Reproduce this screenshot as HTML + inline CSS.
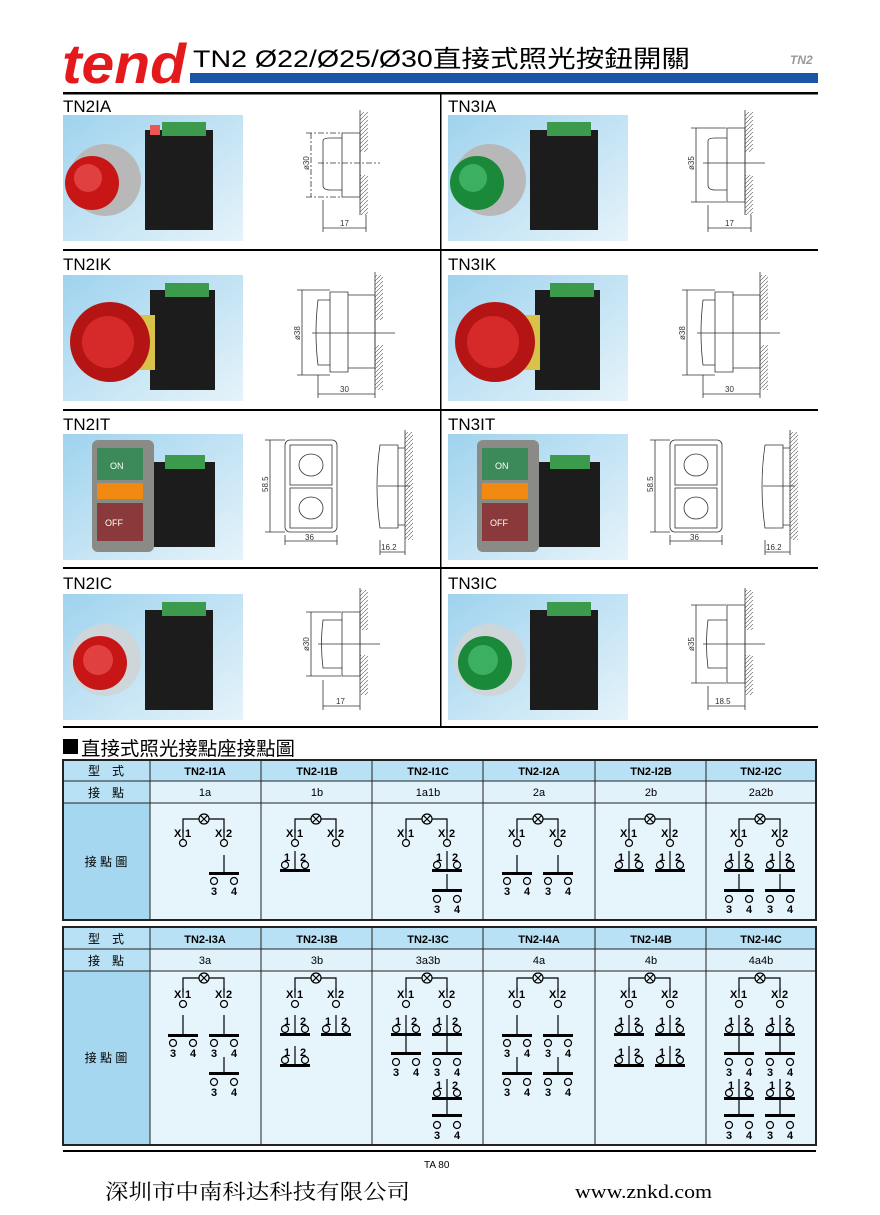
<!DOCTYPE html>
<html><head><meta charset="utf-8"><style>
html,body{margin:0;padding:0;background:#fff}
svg{display:block}
.s{fill:none;stroke:#000;stroke-width:1.2}
.t{font:bold 11px "Liberation Sans",sans-serif;text-anchor:middle}
.lb{font:bold 11px "Liberation Sans",sans-serif}
.h{font:12px "Liberation Sans","Noto Sans CJK TC",sans-serif;text-anchor:middle}
.d{fill:none;stroke:#333;stroke-width:0.8}
.dt{font:8px "Liberation Sans",sans-serif;fill:#333}
.pl{font:17px "Liberation Sans",sans-serif}
</style></head><body>
<svg width="880" height="1215" viewBox="0 0 880 1215" xmlns="http://www.w3.org/2000/svg">
<defs>
<linearGradient id="bg" x1="0" y1="0" x2="1" y2="1"><stop offset="0" stop-color="#9fd3ee"/><stop offset="1" stop-color="#e6f3fa"/></linearGradient>
<pattern id="hat" width="4" height="4" patternUnits="userSpaceOnUse"><path d="M0,4L4,0" stroke="#555" stroke-width="0.6"/></pattern>
</defs>
<!-- header -->
<text x="62" y="83" textLength="124" lengthAdjust="spacingAndGlyphs" style="font:bold italic 56px 'Liberation Sans',sans-serif;fill:#e3191b">tend</text>
<text x="193" y="67" textLength="497" lengthAdjust="spacingAndGlyphs" style="font:24px 'Liberation Sans','Noto Sans CJK TC',sans-serif">TN2  Ø22/Ø25/Ø30直接式照光按鈕開關</text>
<rect x="190" y="73" width="628" height="10" fill="#1a56a8"/>
<text x="790" y="64" style="font:bold italic 12px 'Liberation Sans',sans-serif;fill:#999">TN2</text>
<rect x="63" y="92" width="755" height="2.5" fill="#000"/>
<rect x="440" y="93" width="1.5" height="634" fill="#000"/>
<rect x="63" y="249" width="755" height="2" fill="#000"/>
<rect x="63" y="409" width="755" height="2" fill="#000"/>
<rect x="63" y="567" width="755" height="2" fill="#000"/>
<rect x="63" y="726" width="755" height="2" fill="#000"/>
<text class="pl" x="63" y="112">TN2IA</text><text class="pl" x="448" y="112">TN3IA</text>
<text class="pl" x="63" y="270">TN2IK</text><text class="pl" x="448" y="270">TN3IK</text>
<text class="pl" x="63" y="430">TN2IT</text><text class="pl" x="448" y="430">TN3IT</text>
<text class="pl" x="63" y="589">TN2IC</text><text class="pl" x="448" y="589">TN3IC</text>

<!-- photos -->
<g><rect x="63" y="115" width="180" height="126" fill="url(#bg)"/>
<rect x="145" y="130" width="68" height="100" fill="#1c1c1c"/><rect x="162" y="122" width="44" height="14" fill="#3b9a4c"/><rect x="150" y="125" width="10" height="10" fill="#e55"/>
<circle cx="105" cy="180" r="36" fill="#b8b8b8"/><circle cx="92" cy="183" r="27" fill="#c81616"/><circle cx="88" cy="178" r="14" fill="#e04040"/></g>
<g transform="translate(385,0)"><rect x="63" y="115" width="180" height="126" fill="url(#bg)"/>
<rect x="145" y="130" width="68" height="100" fill="#1c1c1c"/><rect x="162" y="122" width="44" height="14" fill="#3b9a4c"/>
<circle cx="105" cy="180" r="36" fill="#b8b8b8"/><circle cx="92" cy="183" r="27" fill="#1a8a3a"/><circle cx="88" cy="178" r="14" fill="#3cb060"/></g>
<g><rect x="63" y="275" width="180" height="126" fill="url(#bg)"/>
<rect x="150" y="290" width="65" height="100" fill="#1c1c1c"/><rect x="165" y="283" width="44" height="14" fill="#3b9a4c"/>
<rect x="120" y="315" width="35" height="55" fill="#d9c24a"/><circle cx="110" cy="342" r="40" fill="#b51414"/><circle cx="108" cy="342" r="26" fill="#d62a2a"/></g>
<g transform="translate(385,0)"><rect x="63" y="275" width="180" height="126" fill="url(#bg)"/>
<rect x="150" y="290" width="65" height="100" fill="#1c1c1c"/><rect x="165" y="283" width="44" height="14" fill="#3b9a4c"/>
<rect x="120" y="315" width="35" height="55" fill="#d9c24a"/><circle cx="110" cy="342" r="40" fill="#b51414"/><circle cx="108" cy="342" r="26" fill="#d62a2a"/></g>
<g><rect x="63" y="434" width="180" height="126" fill="url(#bg)"/>
<rect x="150" y="462" width="65" height="85" fill="#1c1c1c"/><rect x="165" y="455" width="40" height="14" fill="#3b9a4c"/>
<rect x="92" y="440" width="62" height="112" rx="6" fill="#8a8a86"/><rect x="97" y="448" width="46" height="32" fill="#3c8a5a"/><rect x="97" y="483" width="46" height="16" fill="#f08a10"/><rect x="97" y="503" width="46" height="38" fill="#8a3a3a"/>
<text x="110" y="469" style="font:9px 'Liberation Sans';fill:#fff">ON</text><text x="105" y="526" style="font:9px 'Liberation Sans';fill:#fff">OFF</text></g>
<g transform="translate(385,0)"><rect x="63" y="434" width="180" height="126" fill="url(#bg)"/>
<rect x="150" y="462" width="65" height="85" fill="#1c1c1c"/><rect x="165" y="455" width="40" height="14" fill="#3b9a4c"/>
<rect x="92" y="440" width="62" height="112" rx="6" fill="#8a8a86"/><rect x="97" y="448" width="46" height="32" fill="#3c8a5a"/><rect x="97" y="483" width="46" height="16" fill="#f08a10"/><rect x="97" y="503" width="46" height="38" fill="#8a3a3a"/>
<text x="110" y="469" style="font:9px 'Liberation Sans';fill:#fff">ON</text><text x="105" y="526" style="font:9px 'Liberation Sans';fill:#fff">OFF</text></g>
<g><rect x="63" y="594" width="180" height="126" fill="url(#bg)"/>
<rect x="145" y="610" width="68" height="100" fill="#1c1c1c"/><rect x="162" y="602" width="44" height="14" fill="#3b9a4c"/>
<circle cx="105" cy="660" r="36" fill="#cfd6da"/><circle cx="100" cy="663" r="27" fill="#c81616"/><circle cx="98" cy="660" r="15" fill="#e04040"/></g>
<g transform="translate(385,0)"><rect x="63" y="594" width="180" height="126" fill="url(#bg)"/>
<rect x="145" y="610" width="68" height="100" fill="#1c1c1c"/><rect x="162" y="602" width="44" height="14" fill="#3b9a4c"/>
<circle cx="105" cy="660" r="36" fill="#cfd6da"/><circle cx="100" cy="663" r="27" fill="#1a8a3a"/><circle cx="98" cy="660" r="15" fill="#3cb060"/></g>

<!-- drawings A -->
<g><rect x="360" y="112" width="8" height="40" fill="url(#hat)"/><rect x="360" y="175" width="8" height="40" fill="url(#hat)"/><path class="d" d="M360,110V215"/>
<path class="d" d="M342,133H360V197H342ZM323,141Q323,138 330,138H342V190H330Q323,190 323,185Z"/>
<path class="d" d="M311,133V197M306,133H341M306,197H341M318,163H380" stroke-dasharray="6,2,2,2"/>
<path class="d" d="M323,200V232M366,215V232M323,228H366"/>
<text class="dt" x="340" y="226">17</text><text class="dt" transform="translate(309,170) rotate(-90)">ø30</text></g>
<g transform="translate(385,0)"><rect x="360" y="112" width="8" height="40" fill="url(#hat)"/><rect x="360" y="175" width="8" height="40" fill="url(#hat)"/><path class="d" d="M360,110V215"/>
<path class="d" d="M342,128H360V202H342ZM323,141Q323,138 330,138H342V190H330Q323,190 323,185Z"/>
<path class="d" d="M311,128V202M306,128H341M306,202H341M318,163H380"/>
<path class="d" d="M323,205V232M366,215V232M323,228H366"/>
<text class="dt" x="340" y="226">17</text><text class="dt" transform="translate(309,170) rotate(-90)">ø35</text></g>
<!-- K -->
<g><rect x="375" y="275" width="8" height="45" fill="url(#hat)"/><rect x="375" y="345" width="8" height="45" fill="url(#hat)"/><path class="d" d="M375,272V392"/>
<path class="d" d="M348,295H375V368H348ZM330,292H348V372H330ZM318,300Q314,333 318,365H330V300Z"/>
<path class="d" d="M302,290V375M297,290H330M297,375H330M312,333H395"/>
<path class="d" d="M318,375V398M375,392V398M318,394H375"/>
<text class="dt" x="340" y="392">30</text><text class="dt" transform="translate(300,340) rotate(-90)">ø38</text></g>
<g transform="translate(385,0)"><rect x="375" y="275" width="8" height="45" fill="url(#hat)"/><rect x="375" y="345" width="8" height="45" fill="url(#hat)"/><path class="d" d="M375,272V392"/>
<path class="d" d="M348,295H375V368H348ZM330,292H348V372H330ZM318,300Q314,333 318,365H330V300Z"/>
<path class="d" d="M302,290V375M297,290H330M297,375H330M312,333H395"/>
<path class="d" d="M318,375V398M375,392V398M318,394H375"/>
<text class="dt" x="340" y="392">30</text><text class="dt" transform="translate(300,340) rotate(-90)">ø38</text></g>
<!-- T -->
<g><rect x="285" y="440" width="52" height="92" rx="5" class="d"/><rect x="290" y="445" width="42" height="40" class="d"/><rect x="290" y="488" width="42" height="40" class="d"/>
<ellipse cx="311" cy="465" rx="12" ry="11" class="d"/><ellipse cx="311" cy="508" rx="12" ry="11" class="d"/>
<path class="d" d="M270,440V532M265,440H285M265,532H285M285,535V545M337,535V545M285,541H337"/>
<text class="dt" x="305" y="540">36</text><text class="dt" transform="translate(268,492) rotate(-90)">58.5</text>
<rect x="405" y="432" width="8" height="108" fill="url(#hat)"/><path class="d" d="M405,430V545M380,445Q374,486 380,528H398V445ZM398,448H405V525H398M378,486H410M380,540V555M405,540V555M380,552H405"/>
<text class="dt" x="381" y="550">16.2</text></g>
<g transform="translate(385,0)"><rect x="285" y="440" width="52" height="92" rx="5" class="d"/><rect x="290" y="445" width="42" height="40" class="d"/><rect x="290" y="488" width="42" height="40" class="d"/>
<ellipse cx="311" cy="465" rx="12" ry="11" class="d"/><ellipse cx="311" cy="508" rx="12" ry="11" class="d"/>
<path class="d" d="M270,440V532M265,440H285M265,532H285M285,535V545M337,535V545M285,541H337"/>
<text class="dt" x="305" y="540">36</text><text class="dt" transform="translate(268,492) rotate(-90)">58.5</text>
<rect x="405" y="432" width="8" height="108" fill="url(#hat)"/><path class="d" d="M405,430V545M380,445Q374,486 380,528H398V445ZM398,448H405V525H398M378,486H410M380,540V555M405,540V555M380,552H405"/>
<text class="dt" x="381" y="550">16.2</text></g>
<!-- C -->
<g><rect x="360" y="590" width="8" height="40" fill="url(#hat)"/><rect x="360" y="655" width="8" height="40" fill="url(#hat)"/><path class="d" d="M360,588V695"/>
<path class="d" d="M342,612H360V676H342ZM323,620Q320,644 323,668H342V620Z"/>
<path class="d" d="M311,612V676M306,612H341M306,676H341M318,644H380"/>
<path class="d" d="M323,680V710M360,695V710M323,706H360"/>
<text class="dt" x="336" y="704">17</text><text class="dt" transform="translate(309,651) rotate(-90)">ø30</text></g>
<g transform="translate(385,0)"><rect x="360" y="590" width="8" height="40" fill="url(#hat)"/><rect x="360" y="655" width="8" height="40" fill="url(#hat)"/><path class="d" d="M360,588V695"/>
<path class="d" d="M342,605H360V683H342ZM323,620Q320,644 323,668H342V620Z"/>
<path class="d" d="M311,605V683M306,605H341M306,683H341M318,644H380"/>
<path class="d" d="M323,686V710M360,695V710M323,706H360"/>
<text class="dt" x="330" y="704">18.5</text><text class="dt" transform="translate(309,651) rotate(-90)">ø35</text></g>

<!-- section title -->
<rect x="63" y="739" width="15" height="15" fill="#000"/>
<text x="81" y="755" textLength="214" lengthAdjust="spacingAndGlyphs" style="font:19px 'Liberation Sans','Noto Sans CJK TC',sans-serif">直接式照光接點座接點圖</text>

<!-- table 1 -->
<g stroke="#222" stroke-width="1">
<rect x="63" y="760" width="753" height="21" fill="#b9e1f5"/>
<rect x="63" y="781" width="753" height="22" fill="#e1f2fb"/>
<rect x="63" y="803" width="753" height="117" fill="#e6f4fc"/>
<rect x="63" y="760" width="87" height="160" fill="#b9e1f5"/>
<rect x="63" y="803" width="87" height="117" fill="#a6d7f0"/>
<path d="M63,781H816M261,760V920M372,760V920M483,760V920M595,760V920M706,760V920"/>
<rect x="63" y="760" width="753" height="160" fill="none" stroke-width="2"/>
</g>
<text class="h" x="106" y="775">型　式</text><text class="h" x="106" y="797">接　點</text><text class="h" x="106" y="866">接 點 圖</text>
<g style="font:bold 11px 'Liberation Sans',sans-serif;text-anchor:middle">
<text x="205" y="775">TN2-I1A</text><text x="317" y="775">TN2-I1B</text><text x="428" y="775">TN2-I1C</text><text x="539" y="775">TN2-I2A</text><text x="651" y="775">TN2-I2B</text><text x="761" y="775">TN2-I2C</text>
</g>
<g style="font:11px 'Liberation Sans',sans-serif;text-anchor:middle">
<text x="205" y="796">1a</text><text x="317" y="796">1b</text><text x="428" y="796">1a1b</text><text x="539" y="796">2a</text><text x="651" y="796">2b</text><text x="761" y="796">2a2b</text>
</g>

<!-- table 2 -->
<g stroke="#222" stroke-width="1">
<rect x="63" y="927" width="753" height="22" fill="#b9e1f5"/>
<rect x="63" y="949" width="753" height="22" fill="#e1f2fb"/>
<rect x="63" y="971" width="753" height="174" fill="#e6f4fc"/>
<rect x="63" y="927" width="87" height="218" fill="#b9e1f5"/>
<rect x="63" y="971" width="87" height="174" fill="#a6d7f0"/>
<path d="M63,949H816M261,927V1145M372,927V1145M483,927V1145M595,927V1145M706,927V1145"/>
<rect x="63" y="927" width="753" height="218" fill="none" stroke-width="2"/>
</g>
<text class="h" x="106" y="943">型　式</text><text class="h" x="106" y="965">接　點</text><text class="h" x="106" y="1062">接 點 圖</text>
<g style="font:bold 11px 'Liberation Sans',sans-serif;text-anchor:middle">
<text x="205" y="943">TN2-I3A</text><text x="317" y="943">TN2-I3B</text><text x="428" y="943">TN2-I3C</text><text x="539" y="943">TN2-I4A</text><text x="651" y="943">TN2-I4B</text><text x="761" y="943">TN2-I4C</text>
</g>
<g style="font:11px 'Liberation Sans',sans-serif;text-anchor:middle">
<text x="205" y="964">3a</text><text x="317" y="964">3b</text><text x="428" y="964">3a3b</text><text x="539" y="964">4a</text><text x="651" y="964">4b</text><text x="761" y="964">4a4b</text>
</g>

<!-- lamps -->
<g transform="translate(204,819)"><path class="s" d="M-21,14V0H-5M5,0H20V14"/><circle class="s" r="5"/><path class="s" d="M-3.5,-3.5L3.5,3.5M-3.5,3.5L3.5,-3.5"/><path class="s" d="M-21,10V20M20,10V20"/><text class="lb" x="-30" y="18">X</text><text class="lb" x="-19" y="18">1</text><text class="lb" x="11" y="18">X</text><text class="lb" x="22" y="18">2</text><circle class="s" cx="-21" cy="24" r="3.5"/><circle class="s" cx="20" cy="24" r="3.5"/></g>
<g transform="translate(316,819)"><path class="s" d="M-21,14V0H-5M5,0H20V14"/><circle class="s" r="5"/><path class="s" d="M-3.5,-3.5L3.5,3.5M-3.5,3.5L3.5,-3.5"/><path class="s" d="M-21,10V20M20,10V20"/><text class="lb" x="-30" y="18">X</text><text class="lb" x="-19" y="18">1</text><text class="lb" x="11" y="18">X</text><text class="lb" x="22" y="18">2</text><circle class="s" cx="-21" cy="24" r="3.5"/><circle class="s" cx="20" cy="24" r="3.5"/></g>
<g transform="translate(427,819)"><path class="s" d="M-21,14V0H-5M5,0H20V14"/><circle class="s" r="5"/><path class="s" d="M-3.5,-3.5L3.5,3.5M-3.5,3.5L3.5,-3.5"/><path class="s" d="M-21,10V20M20,10V20"/><text class="lb" x="-30" y="18">X</text><text class="lb" x="-19" y="18">1</text><text class="lb" x="11" y="18">X</text><text class="lb" x="22" y="18">2</text><circle class="s" cx="-21" cy="24" r="3.5"/><circle class="s" cx="20" cy="24" r="3.5"/></g>
<g transform="translate(538,819)"><path class="s" d="M-21,14V0H-5M5,0H20V14"/><circle class="s" r="5"/><path class="s" d="M-3.5,-3.5L3.5,3.5M-3.5,3.5L3.5,-3.5"/><path class="s" d="M-21,10V20M20,10V20"/><text class="lb" x="-30" y="18">X</text><text class="lb" x="-19" y="18">1</text><text class="lb" x="11" y="18">X</text><text class="lb" x="22" y="18">2</text><circle class="s" cx="-21" cy="24" r="3.5"/><circle class="s" cx="20" cy="24" r="3.5"/></g>
<g transform="translate(650,819)"><path class="s" d="M-21,14V0H-5M5,0H20V14"/><circle class="s" r="5"/><path class="s" d="M-3.5,-3.5L3.5,3.5M-3.5,3.5L3.5,-3.5"/><path class="s" d="M-21,10V20M20,10V20"/><text class="lb" x="-30" y="18">X</text><text class="lb" x="-19" y="18">1</text><text class="lb" x="11" y="18">X</text><text class="lb" x="22" y="18">2</text><circle class="s" cx="-21" cy="24" r="3.5"/><circle class="s" cx="20" cy="24" r="3.5"/></g>
<g transform="translate(760,819)"><path class="s" d="M-21,14V0H-5M5,0H20V14"/><circle class="s" r="5"/><path class="s" d="M-3.5,-3.5L3.5,3.5M-3.5,3.5L3.5,-3.5"/><path class="s" d="M-21,10V20M20,10V20"/><text class="lb" x="-30" y="18">X</text><text class="lb" x="-19" y="18">1</text><text class="lb" x="11" y="18">X</text><text class="lb" x="22" y="18">2</text><circle class="s" cx="-21" cy="24" r="3.5"/><circle class="s" cx="20" cy="24" r="3.5"/></g>
<g transform="translate(204,978)"><path class="s" d="M-21,14V0H-5M5,0H20V14"/><circle class="s" r="5"/><path class="s" d="M-3.5,-3.5L3.5,3.5M-3.5,3.5L3.5,-3.5"/><path class="s" d="M-21,10V20M20,10V20"/><text class="lb" x="-30" y="20">X</text><text class="lb" x="-19" y="20">1</text><text class="lb" x="11" y="20">X</text><text class="lb" x="22" y="20">2</text><circle class="s" cx="-21" cy="26" r="3.5"/><circle class="s" cx="20" cy="26" r="3.5"/></g>
<g transform="translate(316,978)"><path class="s" d="M-21,14V0H-5M5,0H20V14"/><circle class="s" r="5"/><path class="s" d="M-3.5,-3.5L3.5,3.5M-3.5,3.5L3.5,-3.5"/><path class="s" d="M-21,10V20M20,10V20"/><text class="lb" x="-30" y="20">X</text><text class="lb" x="-19" y="20">1</text><text class="lb" x="11" y="20">X</text><text class="lb" x="22" y="20">2</text><circle class="s" cx="-21" cy="26" r="3.5"/><circle class="s" cx="20" cy="26" r="3.5"/></g>
<g transform="translate(427,978)"><path class="s" d="M-21,14V0H-5M5,0H20V14"/><circle class="s" r="5"/><path class="s" d="M-3.5,-3.5L3.5,3.5M-3.5,3.5L3.5,-3.5"/><path class="s" d="M-21,10V20M20,10V20"/><text class="lb" x="-30" y="20">X</text><text class="lb" x="-19" y="20">1</text><text class="lb" x="11" y="20">X</text><text class="lb" x="22" y="20">2</text><circle class="s" cx="-21" cy="26" r="3.5"/><circle class="s" cx="20" cy="26" r="3.5"/></g>
<g transform="translate(538,978)"><path class="s" d="M-21,14V0H-5M5,0H20V14"/><circle class="s" r="5"/><path class="s" d="M-3.5,-3.5L3.5,3.5M-3.5,3.5L3.5,-3.5"/><path class="s" d="M-21,10V20M20,10V20"/><text class="lb" x="-30" y="20">X</text><text class="lb" x="-19" y="20">1</text><text class="lb" x="11" y="20">X</text><text class="lb" x="22" y="20">2</text><circle class="s" cx="-21" cy="26" r="3.5"/><circle class="s" cx="20" cy="26" r="3.5"/></g>
<g transform="translate(650,978)"><path class="s" d="M-21,14V0H-5M5,0H20V14"/><circle class="s" r="5"/><path class="s" d="M-3.5,-3.5L3.5,3.5M-3.5,3.5L3.5,-3.5"/><path class="s" d="M-21,10V20M20,10V20"/><text class="lb" x="-30" y="20">X</text><text class="lb" x="-19" y="20">1</text><text class="lb" x="11" y="20">X</text><text class="lb" x="22" y="20">2</text><circle class="s" cx="-21" cy="26" r="3.5"/><circle class="s" cx="20" cy="26" r="3.5"/></g>
<g transform="translate(760,978)"><path class="s" d="M-21,14V0H-5M5,0H20V14"/><circle class="s" r="5"/><path class="s" d="M-3.5,-3.5L3.5,3.5M-3.5,3.5L3.5,-3.5"/><path class="s" d="M-21,10V20M20,10V20"/><text class="lb" x="-30" y="20">X</text><text class="lb" x="-19" y="20">1</text><text class="lb" x="11" y="20">X</text><text class="lb" x="22" y="20">2</text><circle class="s" cx="-21" cy="26" r="3.5"/><circle class="s" cx="20" cy="26" r="3.5"/></g>

<!-- contacts table 1 -->
<g transform="translate(224,855)"><path class="s" d="M0,0V17"/><rect x="-15" y="17" width="30" height="3"/><circle class="s" cx="-10" cy="26" r="3.5"/><circle class="s" cx="10" cy="26" r="3.5"/><text class="t" x="-10" y="40">3</text><text class="t" x="10" y="40">4</text></g>
<g transform="translate(295,869)"><text class="t" x="-8" y="-8">1</text><text class="t" x="8" y="-8">2</text><path class="s" d="M0,-18V0"/><circle class="s" cx="-10" cy="-4" r="3.5"/><circle class="s" cx="10" cy="-4" r="3.5"/><rect x="-15" y="0" width="30" height="3"/></g>
<g transform="translate(447,869)"><text class="t" x="-8" y="-8">1</text><text class="t" x="8" y="-8">2</text><path class="s" d="M0,-18V0"/><circle class="s" cx="-10" cy="-4" r="3.5"/><circle class="s" cx="10" cy="-4" r="3.5"/><rect x="-15" y="0" width="30" height="3"/></g>
<g transform="translate(447,874)"><path class="s" d="M0,0V15"/><rect x="-15" y="15" width="30" height="3"/><circle class="s" cx="-10" cy="25" r="3.5"/><circle class="s" cx="10" cy="25" r="3.5"/><text class="t" x="-10" y="39">3</text><text class="t" x="10" y="39">4</text></g>
<g transform="translate(517,855)"><path class="s" d="M0,0V17"/><rect x="-15" y="17" width="30" height="3"/><circle class="s" cx="-10" cy="26" r="3.5"/><circle class="s" cx="10" cy="26" r="3.5"/><text class="t" x="-10" y="40">3</text><text class="t" x="10" y="40">4</text></g>
<g transform="translate(558,855)"><path class="s" d="M0,0V17"/><rect x="-15" y="17" width="30" height="3"/><circle class="s" cx="-10" cy="26" r="3.5"/><circle class="s" cx="10" cy="26" r="3.5"/><text class="t" x="-10" y="40">3</text><text class="t" x="10" y="40">4</text></g>
<g transform="translate(629,869)"><text class="t" x="-8" y="-8">1</text><text class="t" x="8" y="-8">2</text><path class="s" d="M0,-18V0"/><circle class="s" cx="-10" cy="-4" r="3.5"/><circle class="s" cx="10" cy="-4" r="3.5"/><rect x="-15" y="0" width="30" height="3"/></g>
<g transform="translate(670,869)"><text class="t" x="-8" y="-8">1</text><text class="t" x="8" y="-8">2</text><path class="s" d="M0,-18V0"/><circle class="s" cx="-10" cy="-4" r="3.5"/><circle class="s" cx="10" cy="-4" r="3.5"/><rect x="-15" y="0" width="30" height="3"/></g>
<g transform="translate(739,869)"><text class="t" x="-8" y="-8">1</text><text class="t" x="8" y="-8">2</text><path class="s" d="M0,-18V0"/><circle class="s" cx="-10" cy="-4" r="3.5"/><circle class="s" cx="10" cy="-4" r="3.5"/><rect x="-15" y="0" width="30" height="3"/></g>
<g transform="translate(780,869)"><text class="t" x="-8" y="-8">1</text><text class="t" x="8" y="-8">2</text><path class="s" d="M0,-18V0"/><circle class="s" cx="-10" cy="-4" r="3.5"/><circle class="s" cx="10" cy="-4" r="3.5"/><rect x="-15" y="0" width="30" height="3"/></g>
<g transform="translate(739,874)"><path class="s" d="M0,0V15"/><rect x="-15" y="15" width="30" height="3"/><circle class="s" cx="-10" cy="25" r="3.5"/><circle class="s" cx="10" cy="25" r="3.5"/><text class="t" x="-10" y="39">3</text><text class="t" x="10" y="39">4</text></g>
<g transform="translate(780,874)"><path class="s" d="M0,0V15"/><rect x="-15" y="15" width="30" height="3"/><circle class="s" cx="-10" cy="25" r="3.5"/><circle class="s" cx="10" cy="25" r="3.5"/><text class="t" x="-10" y="39">3</text><text class="t" x="10" y="39">4</text></g>

<!-- contacts table 2 -->
<g transform="translate(183,1015)"><path class="s" d="M0,0V19"/><rect x="-15" y="19" width="30" height="3"/><circle class="s" cx="-10" cy="28" r="3.5"/><circle class="s" cx="10" cy="28" r="3.5"/><text class="t" x="-10" y="42">3</text><text class="t" x="10" y="42">4</text></g>
<g transform="translate(224,1015)"><path class="s" d="M0,0V19"/><rect x="-15" y="19" width="30" height="3"/><circle class="s" cx="-10" cy="28" r="3.5"/><circle class="s" cx="10" cy="28" r="3.5"/><text class="t" x="-10" y="42">3</text><text class="t" x="10" y="42">4</text></g>
<g transform="translate(224,1057)"><path class="s" d="M0,0V15"/><rect x="-15" y="15" width="30" height="3"/><circle class="s" cx="-10" cy="25" r="3.5"/><circle class="s" cx="10" cy="25" r="3.5"/><text class="t" x="-10" y="39">3</text><text class="t" x="10" y="39">4</text></g>
<g transform="translate(295,1033)"><text class="t" x="-8" y="-8">1</text><text class="t" x="8" y="-8">2</text><path class="s" d="M0,-18V0"/><circle class="s" cx="-10" cy="-4" r="3.5"/><circle class="s" cx="10" cy="-4" r="3.5"/><rect x="-15" y="0" width="30" height="3"/></g>
<g transform="translate(336,1033)"><text class="t" x="-8" y="-8">1</text><text class="t" x="8" y="-8">2</text><path class="s" d="M0,-18V0"/><circle class="s" cx="-10" cy="-4" r="3.5"/><circle class="s" cx="10" cy="-4" r="3.5"/><rect x="-15" y="0" width="30" height="3"/></g>
<g transform="translate(295,1064)"><text class="t" x="-8" y="-8">1</text><text class="t" x="8" y="-8">2</text><path class="s" d="M0,-18V0"/><circle class="s" cx="-10" cy="-4" r="3.5"/><circle class="s" cx="10" cy="-4" r="3.5"/><rect x="-15" y="0" width="30" height="3"/></g>
<g transform="translate(406,1033)"><text class="t" x="-8" y="-8">1</text><text class="t" x="8" y="-8">2</text><path class="s" d="M0,-18V0"/><circle class="s" cx="-10" cy="-4" r="3.5"/><circle class="s" cx="10" cy="-4" r="3.5"/><rect x="-15" y="0" width="30" height="3"/></g>
<g transform="translate(447,1033)"><text class="t" x="-8" y="-8">1</text><text class="t" x="8" y="-8">2</text><path class="s" d="M0,-18V0"/><circle class="s" cx="-10" cy="-4" r="3.5"/><circle class="s" cx="10" cy="-4" r="3.5"/><rect x="-15" y="0" width="30" height="3"/></g>
<g transform="translate(406,1036)"><path class="s" d="M0,0V16"/><rect x="-15" y="16" width="30" height="3"/><circle class="s" cx="-10" cy="26" r="3.5"/><circle class="s" cx="10" cy="26" r="3.5"/><text class="t" x="-10" y="40">3</text><text class="t" x="10" y="40">4</text></g>
<g transform="translate(447,1036)"><path class="s" d="M0,0V16"/><rect x="-15" y="16" width="30" height="3"/><circle class="s" cx="-10" cy="26" r="3.5"/><circle class="s" cx="10" cy="26" r="3.5"/><text class="t" x="-10" y="40">3</text><text class="t" x="10" y="40">4</text></g>
<g transform="translate(447,1097)"><text class="t" x="-8" y="-8">1</text><text class="t" x="8" y="-8">2</text><path class="s" d="M0,-18V0"/><circle class="s" cx="-10" cy="-4" r="3.5"/><circle class="s" cx="10" cy="-4" r="3.5"/><rect x="-15" y="0" width="30" height="3"/></g>
<g transform="translate(447,1100)"><path class="s" d="M0,0V14"/><rect x="-15" y="14" width="30" height="3"/><circle class="s" cx="-10" cy="25" r="3.5"/><circle class="s" cx="10" cy="25" r="3.5"/><text class="t" x="-10" y="39">3</text><text class="t" x="10" y="39">4</text></g>
<g transform="translate(517,1015)"><path class="s" d="M0,0V19"/><rect x="-15" y="19" width="30" height="3"/><circle class="s" cx="-10" cy="28" r="3.5"/><circle class="s" cx="10" cy="28" r="3.5"/><text class="t" x="-10" y="42">3</text><text class="t" x="10" y="42">4</text></g>
<g transform="translate(558,1015)"><path class="s" d="M0,0V19"/><rect x="-15" y="19" width="30" height="3"/><circle class="s" cx="-10" cy="28" r="3.5"/><circle class="s" cx="10" cy="28" r="3.5"/><text class="t" x="-10" y="42">3</text><text class="t" x="10" y="42">4</text></g>
<g transform="translate(517,1057)"><path class="s" d="M0,0V15"/><rect x="-15" y="15" width="30" height="3"/><circle class="s" cx="-10" cy="25" r="3.5"/><circle class="s" cx="10" cy="25" r="3.5"/><text class="t" x="-10" y="39">3</text><text class="t" x="10" y="39">4</text></g>
<g transform="translate(558,1057)"><path class="s" d="M0,0V15"/><rect x="-15" y="15" width="30" height="3"/><circle class="s" cx="-10" cy="25" r="3.5"/><circle class="s" cx="10" cy="25" r="3.5"/><text class="t" x="-10" y="39">3</text><text class="t" x="10" y="39">4</text></g>
<g transform="translate(629,1033)"><text class="t" x="-8" y="-8">1</text><text class="t" x="8" y="-8">2</text><path class="s" d="M0,-18V0"/><circle class="s" cx="-10" cy="-4" r="3.5"/><circle class="s" cx="10" cy="-4" r="3.5"/><rect x="-15" y="0" width="30" height="3"/></g>
<g transform="translate(670,1033)"><text class="t" x="-8" y="-8">1</text><text class="t" x="8" y="-8">2</text><path class="s" d="M0,-18V0"/><circle class="s" cx="-10" cy="-4" r="3.5"/><circle class="s" cx="10" cy="-4" r="3.5"/><rect x="-15" y="0" width="30" height="3"/></g>
<g transform="translate(629,1064)"><text class="t" x="-8" y="-8">1</text><text class="t" x="8" y="-8">2</text><path class="s" d="M0,-18V0"/><circle class="s" cx="-10" cy="-4" r="3.5"/><circle class="s" cx="10" cy="-4" r="3.5"/><rect x="-15" y="0" width="30" height="3"/></g>
<g transform="translate(670,1064)"><text class="t" x="-8" y="-8">1</text><text class="t" x="8" y="-8">2</text><path class="s" d="M0,-18V0"/><circle class="s" cx="-10" cy="-4" r="3.5"/><circle class="s" cx="10" cy="-4" r="3.5"/><rect x="-15" y="0" width="30" height="3"/></g>
<g transform="translate(739,1033)"><text class="t" x="-8" y="-8">1</text><text class="t" x="8" y="-8">2</text><path class="s" d="M0,-18V0"/><circle class="s" cx="-10" cy="-4" r="3.5"/><circle class="s" cx="10" cy="-4" r="3.5"/><rect x="-15" y="0" width="30" height="3"/></g>
<g transform="translate(780,1033)"><text class="t" x="-8" y="-8">1</text><text class="t" x="8" y="-8">2</text><path class="s" d="M0,-18V0"/><circle class="s" cx="-10" cy="-4" r="3.5"/><circle class="s" cx="10" cy="-4" r="3.5"/><rect x="-15" y="0" width="30" height="3"/></g>
<g transform="translate(739,1036)"><path class="s" d="M0,0V16"/><rect x="-15" y="16" width="30" height="3"/><circle class="s" cx="-10" cy="26" r="3.5"/><circle class="s" cx="10" cy="26" r="3.5"/><text class="t" x="-10" y="40">3</text><text class="t" x="10" y="40">4</text></g>
<g transform="translate(780,1036)"><path class="s" d="M0,0V16"/><rect x="-15" y="16" width="30" height="3"/><circle class="s" cx="-10" cy="26" r="3.5"/><circle class="s" cx="10" cy="26" r="3.5"/><text class="t" x="-10" y="40">3</text><text class="t" x="10" y="40">4</text></g>
<g transform="translate(739,1097)"><text class="t" x="-8" y="-8">1</text><text class="t" x="8" y="-8">2</text><path class="s" d="M0,-18V0"/><circle class="s" cx="-10" cy="-4" r="3.5"/><circle class="s" cx="10" cy="-4" r="3.5"/><rect x="-15" y="0" width="30" height="3"/></g>
<g transform="translate(780,1097)"><text class="t" x="-8" y="-8">1</text><text class="t" x="8" y="-8">2</text><path class="s" d="M0,-18V0"/><circle class="s" cx="-10" cy="-4" r="3.5"/><circle class="s" cx="10" cy="-4" r="3.5"/><rect x="-15" y="0" width="30" height="3"/></g>
<g transform="translate(739,1100)"><path class="s" d="M0,0V14"/><rect x="-15" y="14" width="30" height="3"/><circle class="s" cx="-10" cy="25" r="3.5"/><circle class="s" cx="10" cy="25" r="3.5"/><text class="t" x="-10" y="39">3</text><text class="t" x="10" y="39">4</text></g>
<g transform="translate(780,1100)"><path class="s" d="M0,0V14"/><rect x="-15" y="14" width="30" height="3"/><circle class="s" cx="-10" cy="25" r="3.5"/><circle class="s" cx="10" cy="25" r="3.5"/><text class="t" x="-10" y="39">3</text><text class="t" x="10" y="39">4</text></g>

<!-- footer -->
<rect x="63" y="1150" width="753" height="2" fill="#000"/>
<text x="424" y="1168" style="font:10px 'Liberation Sans',sans-serif">TA 80</text>
<text x="105" y="1199" textLength="305" lengthAdjust="spacingAndGlyphs" style="font:21px 'Liberation Serif','Noto Serif CJK SC',serif">深圳市中南科达科技有限公司</text>
<text x="575" y="1198" textLength="137" lengthAdjust="spacingAndGlyphs" style="font:19px 'Liberation Serif',serif">www.znkd.com</text>
</svg>
</body></html>
